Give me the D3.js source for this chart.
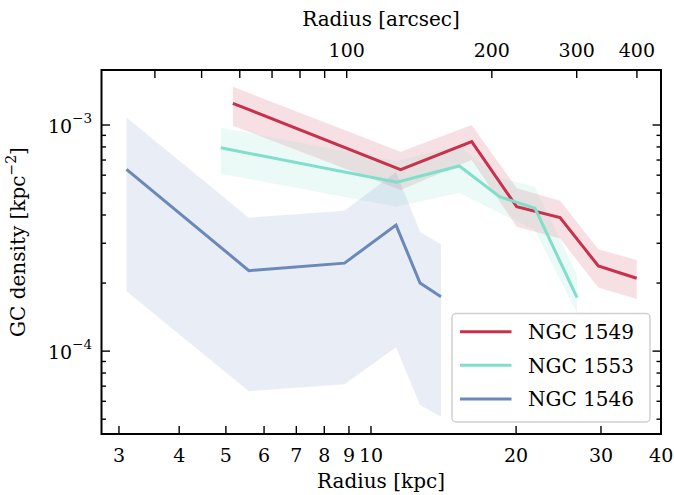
<!DOCTYPE html>
<html>
<head>
<meta charset="utf-8">
<script src="https://cdn.jsdelivr.net/npm/d3@7"></script>
<style>
  html, body { margin: 0; padding: 0; background: #fff; }
  svg { display: block; }
</style>
</head>
<body>
<svg id="chart" width="674" height="495"></svg>
<script>
// ---- data ----
const galaxies = ["NGC 1549", "NGC 1553", "NGC 1546"];

const ngc1549_r     = [5.17, 11.52, 16.18, 20.06, 24.67, 29.62, 35.58];
const ngc1549_mid   = [1.247e-3, 6.34e-4, 8.44e-4, 4.35e-4, 3.90e-4, 2.38e-4, 2.10e-4];
const ngc1549_upper = [1.477e-3, 7.62e-4, 1.00e-3, 5.25e-4, 4.62e-4, 2.82e-4, 2.53e-4];
const ngc1549_lower = [9.93e-4, 5.16e-4, 7.00e-4, 3.55e-4, 3.15e-4, 1.91e-4, 1.70e-4];

const ngc1553_r     = [4.88, 11.31, 15.25, 18.48, 21.89, 26.76];
const ngc1553_mid   = [7.93e-4, 5.58e-4, 6.59e-4, 4.82e-4, 4.28e-4, 1.725e-4];
const ngc1553_upper = [9.73e-4, 6.93e-4, 8.07e-4, 5.83e-4, 5.33e-4, 2.17e-4];
const ngc1553_lower = [6.09e-4, 4.35e-4, 5.02e-4, 4.08e-4, 3.43e-4, 1.47e-4];

const ngc1546_r     = [3.11, 5.58, 8.81, 11.27, 12.64, 13.97];
const ngc1546_mid   = [6.37e-4, 2.27e-4, 2.45e-4, 3.61e-4, 2.00e-4, 1.74e-4];
const ngc1546_upper = [1.08e-3, 3.89e-4, 4.18e-4, 6.19e-4, 3.36e-4, 2.97e-4];
const ngc1546_lower = [1.84e-4, 6.65e-5, 7.14e-5, 1.04e-4, 5.77e-5, 5.12e-5];

const colors = ["#c8304b", "#7fdfcb", "#6b88ba"];

const xTickValues = [3, 4, 5, 6, 7, 8, 9, 10, 20, 30, 40];
const topTickValues = [40, 50, 60, 70, 80, 90, 100, 200, 300, 400];
const topTickLabels = [100, 200, 300, 400];
const yMajorTicks = [1e-4, 1e-3];
const yMinorTicks = [5e-5, 6e-5, 7e-5, 8e-5, 9e-5, 2e-4, 3e-4, 4e-4, 5e-4, 6e-4, 7e-4, 8e-4, 9e-4];
const arcsecPerKpc = 11.23;

const series = [
  { name: galaxies[0], r: ngc1549_r, mid: ngc1549_mid, up: ngc1549_upper, lo: ngc1549_lower, color: colors[0] },
  { name: galaxies[1], r: ngc1553_r, mid: ngc1553_mid, up: ngc1553_upper, lo: ngc1553_lower, color: colors[1] },
  { name: galaxies[2], r: ngc1546_r, mid: ngc1546_mid, up: ngc1546_upper, lo: ngc1546_lower, color: colors[2] }
];

// ---- layout ----
const FONT = "'DejaVu Serif', 'Liberation Serif', 'Noto Serif', 'Times New Roman', serif";
const L = 101.5, R = 661, T = 70, B = 434;
const svg = d3.select("#chart").attr("font-family", FONT);

const x = d3.scaleLog().domain([2.760, 39.96]).range([L, R]);
const xTop = d3.scaleLog().domain([2.760 * arcsecPerKpc, 39.96 * arcsecPerKpc]).range([L, R]);
const y = d3.scaleLog().domain([4.30e-5, 1.751e-3]).range([B, T]);

svg.append("defs").append("clipPath").attr("id", "clip")
  .append("rect").attr("x", L).attr("y", T).attr("width", R - L).attr("height", B - T);

const plot = svg.append("g").attr("clip-path", "url(#clip)");

// bands (below lines)
series.forEach(s => {
  const pts = s.r.map((r, i) => ({ r, up: s.up[i], lo: s.lo[i] }));
  const area = d3.area().x(d => x(d.r)).y0(d => y(d.lo)).y1(d => y(d.up));
  plot.append("path").datum(pts).attr("d", area)
    .attr("fill", s.color).attr("fill-opacity", 0.15).attr("stroke", "none");
});
// lines
series.forEach(s => {
  const pts = s.r.map((r, i) => ({ r, v: s.mid[i] }));
  const line = d3.line().x(d => x(d.r)).y(d => y(d.v));
  plot.append("path").datum(pts).attr("d", line)
    .attr("fill", "none").attr("stroke", s.color).attr("stroke-width", 3)
    .attr("stroke-linejoin", "miter").attr("stroke-linecap", "butt");
});

// ---- axes (inward ticks on all sides) ----
const axisG = svg.append("g");
const tickStroke = 1.4;
const majorLen = 8.5, minorLen = 4.5, xLen = 8;

xTickValues.forEach(v => {
  axisG.append("line").attr("x1", x(v)).attr("x2", x(v)).attr("y1", B).attr("y2", B - xLen)
    .attr("stroke", "#000").attr("stroke-width", tickStroke);
  axisG.append("text").attr("x", x(v)).attr("y", 462).attr("text-anchor", "middle")
    .attr("font-size", 19).text(d3.format("d")(v));
});
topTickValues.forEach(v => {
  axisG.append("line").attr("x1", xTop(v)).attr("x2", xTop(v)).attr("y1", T).attr("y2", T + xLen)
    .attr("stroke", "#000").attr("stroke-width", tickStroke);
});
topTickLabels.forEach(v => {
  axisG.append("text").attr("x", xTop(v)).attr("y", 57).attr("text-anchor", "middle")
    .attr("font-size", 19).text(v);
});
yMajorTicks.forEach(v => {
  [[L, L + majorLen], [R, R - majorLen]].forEach(([a, b]) => {
    axisG.append("line").attr("x1", a).attr("x2", b).attr("y1", y(v)).attr("y2", y(v))
      .attr("stroke", "#000").attr("stroke-width", tickStroke);
  });
  const t = axisG.append("text").attr("x", 92).attr("y", y(v) + 7.5).attr("text-anchor", "end")
    .attr("font-size", 19);
  t.append("tspan").text("10");
  t.append("tspan").attr("font-size", 13.5).attr("dy", -10).text("\u2212" + Math.round(-Math.log10(v)));
});
yMinorTicks.forEach(v => {
  [[L, L + minorLen], [R, R - minorLen]].forEach(([a, b]) => {
    axisG.append("line").attr("x1", a).attr("x2", b).attr("y1", y(v)).attr("y2", y(v))
      .attr("stroke", "#000").attr("stroke-width", tickStroke);
  });
});

axisG.append("rect").attr("x", L).attr("y", T).attr("width", R - L).attr("height", B - T)
  .attr("fill", "none").attr("stroke", "#000").attr("stroke-width", 2);

// axis labels
svg.append("text").attr("x", 381).attr("y", 488).attr("text-anchor", "middle")
  .attr("font-size", 20).text("Radius [kpc]");
svg.append("text").attr("x", 381).attr("y", 26).attr("text-anchor", "middle")
  .attr("font-size", 20).text("Radius [arcsec]");
const yl = svg.append("text").attr("transform", "translate(25,242) rotate(-90)")
  .attr("text-anchor", "middle").attr("font-size", 20);
yl.append("tspan").text("GC density [kpc");
yl.append("tspan").attr("font-size", 14).attr("dy", -9).text("\u22122");
yl.append("tspan").attr("dy", 9).text("]");

// ---- legend ----
const lg = svg.append("g");
lg.append("rect").attr("x", 452).attr("y", 313.5).attr("width", 198).attr("height", 108.5)
  .attr("rx", 4).attr("ry", 4).attr("fill", "#fff").attr("fill-opacity", 0.8)
  .attr("stroke", "#d0d0d0").attr("stroke-width", 1.5);
series.forEach((s, i) => {
  const yy = 331.7 + i * 33.6;
  lg.append("line").attr("x1", 460).attr("x2", 511.5).attr("y1", yy).attr("y2", yy)
    .attr("stroke", s.color).attr("stroke-width", 3);
  lg.append("text").attr("x", 528).attr("y", yy + 7.5).attr("font-size", 20).text(s.name);
});
</script>
</body>
</html>
